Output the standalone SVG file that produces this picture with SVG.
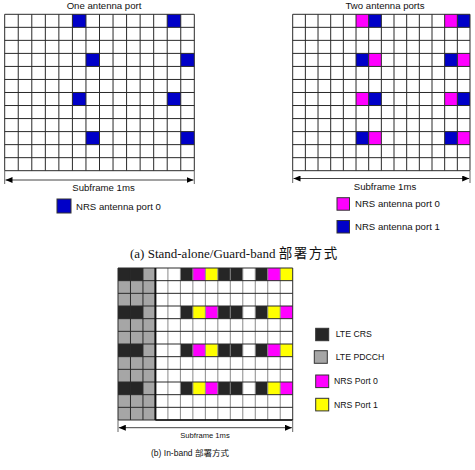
<svg xmlns="http://www.w3.org/2000/svg" width="475" height="470" viewBox="0 0 475 470">
<style>
text{font-family:"Liberation Sans",Arial,sans-serif;fill:#111}
.t{font-size:9.6px}
.lg{font-size:8.7px}
.b{fill:#0000C8}
.m{fill:#FF00FF}
.y{fill:#FFFF00}
.k{fill:#262626}
.g{fill:#A6A6A6}
.grid{fill:none;stroke:#2a2a2a;stroke-width:1;vector-effect:non-scaling-stroke}
.gv{fill:none;stroke:#8a8a8a;stroke-width:1;vector-effect:non-scaling-stroke}
.arr{stroke:#444;stroke-width:1;fill:none}
.tick{stroke:#666;stroke-width:1}
.sw{stroke:#333;stroke-width:1}
</style>
<defs>
<marker id="ah" markerUnits="userSpaceOnUse" markerWidth="8" markerHeight="6" refX="7" refY="3" orient="auto-start-reverse">
<path d="M0,0 L7,3 L0,6 Z" fill="#000"/>
</marker>
<path id="gl" class="grid" vector-effect="non-scaling-stroke" d="M0,0V12M1,0V12M2,0V12M3,0V12M4,0V12M5,0V12M6,0V12M7,0V12M8,0V12M9,0V12M10,0V12M11,0V12M12,0V12M13,0V12M14,0V12M0,0H14M0,1H14M0,2H14M0,3H14M0,4H14M0,5H14M0,6H14M0,7H14M0,8H14M0,9H14M0,10H14M0,11H14M0,12H14"/>
</defs>

<g id="grid-one-port">
<text class="t" x="104" y="9" text-anchor="middle">One antenna port</text>
<g transform="translate(4.7,14.3) scale(13.543,13.033)">
<rect x="0" y="0" width="14" height="12" fill="#fff"/>
<g class="b">
<rect x="5" y="0" width="1" height="1"/><rect x="12" y="0" width="1" height="1"/>
<rect x="6" y="3" width="1" height="1"/><rect x="13" y="3" width="1" height="1"/>
<rect x="5" y="6" width="1" height="1"/><rect x="12" y="6" width="1" height="1"/>
<rect x="6" y="9" width="1" height="1"/><rect x="13" y="9" width="1" height="1"/>
</g>
<use href="#gl"/>
</g>
</g>

<g id="grid-two-ports">
<text class="t" x="385" y="9" text-anchor="middle">Two antenna ports</text>
<g transform="translate(292.7,14.3) scale(12.664,13.033)">
<rect x="0" y="0" width="14" height="12" fill="#fff"/>
<g class="m">
<rect x="5" y="0" width="1" height="1"/><rect x="12" y="0" width="1" height="1"/>
<rect x="6" y="3" width="1" height="1"/><rect x="13" y="3" width="1" height="1"/>
<rect x="5" y="6" width="1" height="1"/><rect x="12" y="6" width="1" height="1"/>
<rect x="6" y="9" width="1" height="1"/><rect x="13" y="9" width="1" height="1"/>
</g>
<g class="b">
<rect x="6" y="0" width="1" height="1"/><rect x="13" y="0" width="1" height="1"/>
<rect x="5" y="3" width="1" height="1"/><rect x="12" y="3" width="1" height="1"/>
<rect x="6" y="6" width="1" height="1"/><rect x="13" y="6" width="1" height="1"/>
<rect x="5" y="9" width="1" height="1"/><rect x="12" y="9" width="1" height="1"/>
</g>
<use href="#gl"/>
</g>
</g>

<g id="grid-inband">
<g transform="translate(118,268) scale(12.479,12.667)">
<rect x="0" y="0" width="14" height="12" fill="#fff"/>
<rect class="g" x="0" y="0" width="3" height="12"/>
<g class="k">
<rect x="0" y="0" width="2" height="1"/><rect x="0" y="3" width="2" height="1"/>
<rect x="0" y="6" width="2" height="1"/><rect x="0" y="9" width="2" height="1"/>
<rect x="5" y="0" width="1" height="1"/><rect x="8" y="0" width="2" height="1"/><rect x="11" y="0" width="1" height="1"/>
<rect x="5" y="3" width="1" height="1"/><rect x="8" y="3" width="2" height="1"/><rect x="11" y="3" width="1" height="1"/>
<rect x="5" y="6" width="1" height="1"/><rect x="8" y="6" width="2" height="1"/><rect x="11" y="6" width="1" height="1"/>
<rect x="5" y="9" width="1" height="1"/><rect x="8" y="9" width="2" height="1"/><rect x="11" y="9" width="1" height="1"/>
</g>
<g class="m">
<rect x="6" y="0" width="1" height="1"/><rect x="12" y="0" width="1" height="1"/>
<rect x="7" y="3" width="1" height="1"/><rect x="13" y="3" width="1" height="1"/>
<rect x="6" y="6" width="1" height="1"/><rect x="12" y="6" width="1" height="1"/>
<rect x="7" y="9" width="1" height="1"/><rect x="13" y="9" width="1" height="1"/>
</g>
<g class="y">
<rect x="7" y="0" width="1" height="1"/><rect x="13" y="0" width="1" height="1"/>
<rect x="6" y="3" width="1" height="1"/><rect x="12" y="3" width="1" height="1"/>
<rect x="7" y="6" width="1" height="1"/><rect x="13" y="6" width="1" height="1"/>
<rect x="6" y="9" width="1" height="1"/><rect x="12" y="9" width="1" height="1"/>
</g>
<path class="gv" vector-effect="non-scaling-stroke" d="M4,0V12M5,0V12M6,0V12M7,0V12M8,0V12M9,0V12M10,0V12M11,0V12M12,0V12M13,0V12"/>
<path class="grid" vector-effect="non-scaling-stroke" d="M0,0V12M1,0V12M2,0V12M14,0V12M0,0H14M0,1H14M0,2H14M0,3H14M0,4H14M0,5H14M0,6H14M0,7H14M0,8H14M0,9H14M0,10H14M0,11H14M0,12H14"/>
</g>
<line x1="155.4" y1="268" x2="155.4" y2="420" stroke="#111" stroke-width="2"/>
<line x1="155.4" y1="420" x2="292.7" y2="420" stroke="#111" stroke-width="1.5"/>
</g>

<g id="connectors">
<line class="tick" x1="4.7" y1="171" x2="4.7" y2="184"/>
<line class="tick" x1="194.3" y1="171" x2="194.3" y2="184"/>
<line class="arr" x1="5.5" y1="180" x2="193.5" y2="180" marker-start="url(#ah)" marker-end="url(#ah)"/>
<line class="tick" x1="292.7" y1="171" x2="292.7" y2="183"/>
<line class="tick" x1="470" y1="171" x2="470" y2="183"/>
<line class="arr" x1="293.5" y1="178.5" x2="469.2" y2="178.5" marker-start="url(#ah)" marker-end="url(#ah)"/>
<line class="tick" x1="118" y1="420" x2="118" y2="432"/>
<line class="tick" x1="292.7" y1="420" x2="292.7" y2="432"/>
<line class="arr" x1="118.8" y1="427.7" x2="291.9" y2="427.7" marker-start="url(#ah)" marker-end="url(#ah)"/>
</g>

<g id="labels">
<text class="t" x="103.5" y="191" text-anchor="middle" font-size="9.5">Subframe 1ms</text>
<text class="t" x="385" y="189.5" text-anchor="middle">Subframe 1ms</text>
<text x="205" y="438" text-anchor="middle" font-size="7.6">Subframe 1ms</text>
</g>

<g id="legend-one-port">
<rect class="b sw" x="57" y="199" width="14" height="14"/>
<text class="t" x="76" y="209.5">NRS antenna port 0</text>
</g>

<g id="legend-two-ports">
<rect class="m sw" x="337" y="197.7" width="12.5" height="12.5"/>
<text class="t" x="355" y="206.8">NRS antenna port 0</text>
<rect class="b sw" x="337" y="220.5" width="12.5" height="12.5"/>
<text class="t" x="355" y="230.2">NRS antenna port 1</text>
</g>

<g id="caption-a">
<text x="130" y="258" font-size="13" style="font-family:'Liberation Serif','Noto Sans CJK TC',serif">(a) Stand-alone/Guard-band <tspan style="font-family:'Noto Sans CJK TC',sans-serif" font-size="13.5" letter-spacing="1.5">部署方式</tspan></text>
</g>

<g id="legend-inband">
<rect class="k sw" x="315.7" y="328.3" width="13" height="12.4"/>
<text class="lg" x="335.7" y="337.2">LTE CRS</text>
<rect class="g sw" x="314.3" y="350.7" width="13" height="12.6"/>
<text class="lg" x="335.7" y="360.4">LTE PDCCH</text>
<rect class="m sw" x="315.7" y="375" width="13" height="12.6"/>
<text class="lg" x="334" y="384.2">NRS Port 0</text>
<rect class="y sw" x="315.7" y="398.3" width="13" height="12.6"/>
<text class="lg" x="334" y="408.2">NRS Port 1</text>
</g>

<g id="caption-b">
<text x="190" y="456" text-anchor="middle" font-size="8.5" style="font-family:'Liberation Sans','Noto Sans CJK TC',sans-serif">(b) In-band 部署方式</text>
</g>
</svg>
